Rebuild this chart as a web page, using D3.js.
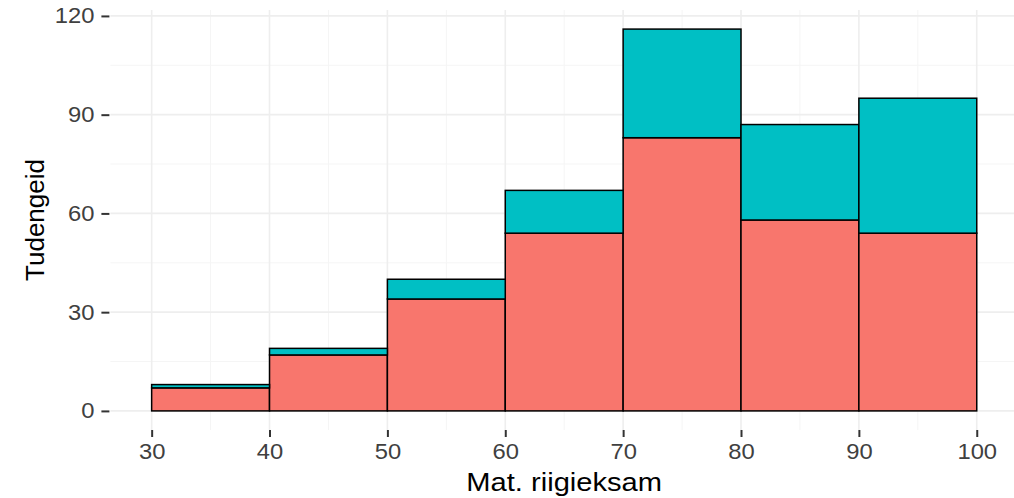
<!DOCTYPE html>
<html lang="et">
<head>
    <meta charset="UTF-8">
    <title>Mat. riigieksam histogram</title>
    <style>
        body {
            margin: 0;
            padding: 0;
            background: #fff;
            font-family: "Liberation Sans", Arial, sans-serif;
        }

        svg {
            display: block;
        }

        .grid .major {
            stroke: #eeeeee;
            stroke-width: 1.6;
        }

        .grid .minor {
            stroke: #f5f5f5;
            stroke-width: 1;
        }

        .axis text {
            fill: #404040;
            font-size: 22px;
        }

        .axis line {
            stroke: #333;
            stroke-width: 2;
        }

        .axis path {
            display: none;
        }

        .title {
            font-size: 26px;
            fill: #000;
        }
    </style>
</head>
<body>
<svg width="1014" height="498" id="chart"></svg>

<script src="https://d3js.org/d3.v7.min.js"></script>
<script>
    // bins of the histogram (left edge, right edge)
    const binStarts = [30, 40, 50, 60, 70, 80, 90];
    const binEnds = [40, 50, 60, 70, 80, 90, 100];
    // counts per group, red one on the bottom
    const groupA = [7, 17, 34, 54, 83, 58, 54];
    const groupB = [1, 2, 6, 13, 33, 29, 41];
    const colors = ["#F8766D", "#00BFC4"];

    const xTicks = [30, 40, 50, 60, 70, 80, 90, 100];
    const xMinor = [35, 45, 55, 65, 75, 85, 95];
    const yTicks = [0, 30, 60, 90, 120];
    const yMinor = [15, 45, 75, 105];

    const svg = d3.select("#chart");

    // panel box (right side runs past the image edge, like the original)
    const panel = { left: 110.4, right: 1018, top: 10, bottom: 430 };
    // the reference text looks a bit stretched sideways
    const stretch = 1.08;

    const maxTotal = d3.max(groupA.map((d, i) => d + groupB[i]));
    const x = d3.scaleLinear()
        .domain([26.5, 103.5])
        .range([panel.left, panel.right]);
    const y = d3.scaleLinear()
        .domain([-maxTotal * 0.05, maxTotal * 1.05])
        .range([panel.bottom, panel.top]);

    // grid
    const grid = svg.append("g").attr("class", "grid");
    grid.selectAll(".minor-x").data(xMinor).enter().append("line")
        .attr("class", "minor")
        .attr("x1", d => x(d)).attr("x2", d => x(d))
        .attr("y1", panel.top).attr("y2", panel.bottom);
    grid.selectAll(".minor-y").data(yMinor).enter().append("line")
        .attr("class", "minor")
        .attr("x1", panel.left).attr("x2", panel.right)
        .attr("y1", d => y(d)).attr("y2", d => y(d));
    grid.selectAll(".major-x").data(xTicks).enter().append("line")
        .attr("class", "major")
        .attr("x1", d => x(d)).attr("x2", d => x(d))
        .attr("y1", panel.top).attr("y2", panel.bottom);
    grid.selectAll(".major-y").data(yTicks).enter().append("line")
        .attr("class", "major")
        .attr("x1", panel.left).attr("x2", panel.right)
        .attr("y1", d => y(d)).attr("y2", d => y(d));

    // stacked bars
    const rows = binStarts.map((s, i) => ({ start: s, end: binEnds[i], a: groupA[i], b: groupB[i] }));
    const stack = d3.stack().keys(["a", "b"])(rows);

    svg.append("g").selectAll("g")
        .data(stack)
        .enter().append("g")
        .attr("fill", (d, i) => colors[i])
        .selectAll("rect")
        .data(d => d)
        .enter().append("rect")
        .attr("x", d => x(d.data.start))
        .attr("width", d => x(d.data.end) - x(d.data.start))
        .attr("y", d => y(d[1]))
        .attr("height", d => y(d[0]) - y(d[1]))
        .attr("stroke", "#000")
        .attr("stroke-width", 1.5);

    // axes
    svg.append("g")
        .attr("class", "axis")
        .attr("transform", `translate(0,${panel.bottom})`)
        .call(d3.axisBottom(x).tickValues(xTicks).tickSize(7).tickPadding(6))
        .selectAll("text")
        .attr("transform", `scale(${stretch},1)`);

    const yAxis = svg.append("g")
        .attr("class", "axis")
        .attr("transform", `translate(${panel.left - 1},0)`)
        .call(d3.axisLeft(y).tickValues(yTicks).tickSize(8).tickPadding(7));
    yAxis.selectAll("text")
        .attr("x", -15 / stretch)
        .attr("transform", `scale(${stretch},1)`);

    // axis titles
    svg.append("text")
        .attr("class", "title")
        .attr("transform", `translate(${(panel.left + panel.right) / 2},491) scale(1.12,1)`)
        .attr("text-anchor", "middle")
        .text("Mat. riigieksam");

    svg.append("text")
        .attr("class", "title")
        .attr("transform", `translate(44,${(panel.top + panel.bottom) / 2}) rotate(-90)`)
        .attr("text-anchor", "middle")
        .text("Tudengeid");
</script>
</body>
</html>
